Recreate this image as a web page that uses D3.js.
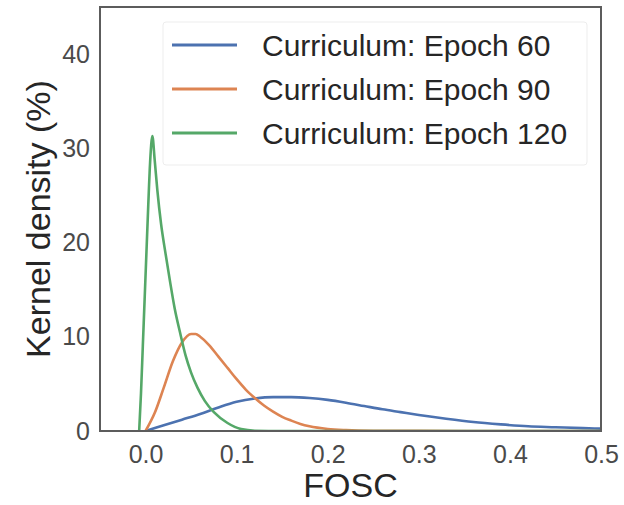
<!DOCTYPE html>
<html>
<head>
<meta charset="utf-8">
<script src="https://cdn.jsdelivr.net/npm/d3@7"></script>
<style>
  body { margin: 0; background: #fff; }
  svg { display: block; font-family: "Liberation Sans", Arial, Helvetica, sans-serif; }
</style>
</head>
<body>
<svg id="chart" width="624" height="505"></svg>
<script>
// ---- data ----
const seriesNames = ["Curriculum: Epoch 60", "Curriculum: Epoch 90", "Curriculum: Epoch 120"];
const seriesColors = ["#4c72b0", "#dd8452", "#55a868"];

const epoch60X = [0.0, 0.02, 0.04, 0.06, 0.08, 0.10, 0.12, 0.14, 0.16, 0.18, 0.20, 0.22, 0.24, 0.26, 0.28, 0.30, 0.33, 0.36, 0.39, 0.42, 0.45, 0.48, 0.50];
const epoch60Y = [0, 0.6, 1.2, 1.8, 2.5, 3.1, 3.45, 3.6, 3.6, 3.5, 3.3, 3.0, 2.65, 2.3, 2.0, 1.7, 1.3, 0.95, 0.7, 0.5, 0.4, 0.3, 0.25];

const epoch90X = [0.0, 0.01, 0.02, 0.03, 0.04, 0.05, 0.055, 0.06, 0.07, 0.08, 0.09, 0.10, 0.11, 0.12, 0.13, 0.14, 0.15, 0.16, 0.17, 0.18, 0.20, 0.22, 0.25, 0.30, 0.40, 0.50];
const epoch90Y = [0, 1.9, 4.6, 7.4, 9.4, 10.3, 10.3, 10.0, 9.1, 7.9, 6.7, 5.5, 4.4, 3.5, 2.7, 2.05, 1.5, 1.1, 0.75, 0.5, 0.22, 0.1, 0.03, 0.01, 0.0, 0.0];

const epoch120X = [-0.007, -0.005, -0.003, -0.001, 0.001, 0.003, 0.005, 0.0075, 0.010, 0.013, 0.017, 0.022, 0.027, 0.032, 0.038, 0.044, 0.050, 0.057, 0.065, 0.075, 0.09, 0.105, 0.12, 0.15, 0.2, 0.3, 0.5];
const epoch120Y = [0, 4, 9, 14, 19, 24, 28.5, 31.3, 28.8, 25.5, 22, 18.8, 15.8, 13, 10.4, 8, 6.2, 4.6, 3.2, 2.0, 0.85, 0.2, 0.03, 0, 0, 0, 0];

const xTicks = [0.0, 0.1, 0.2, 0.3, 0.4, 0.5];
const yTicks = [0, 10, 20, 30, 40];
const xLabel = "FOSC";
const yLabel = "Kernel density (%)";

// ---- layout ----
const svg = d3.select("#chart");
const L = 100, R = 601, T = 7, B = 431;

const x = d3.scaleLinear().domain([-0.05, 0.5]).range([L, R]);
const y = d3.scaleLinear().domain([0, 45]).range([B, T]);

const series = [
  {name: seriesNames[0], color: seriesColors[0], xs: epoch60X, ys: epoch60Y},
  {name: seriesNames[1], color: seriesColors[1], xs: epoch90X, ys: epoch90Y},
  {name: seriesNames[2], color: seriesColors[2], xs: epoch120X, ys: epoch120Y}
];

const line = d3.line()
  .x(d => x(d[0]))
  .y(d => y(d[1]))
  .curve(d3.curveMonotoneX);

svg.append("defs").append("clipPath").attr("id", "clip")
  .append("rect").attr("x", L).attr("y", T).attr("width", R - L).attr("height", B - T);

const g = svg.append("g").attr("clip-path", "url(#clip)");
series.forEach(s => {
  g.append("path")
    .datum(s.xs.map((v, i) => [v, s.ys[i]]))
    .attr("fill", "none")
    .attr("stroke", s.color)
    .attr("stroke-width", 2.6)
    .attr("stroke-linejoin", "round")
    .attr("d", line);
});

// frame
svg.append("rect")
  .attr("x", L).attr("y", T).attr("width", R - L).attr("height", B - T)
  .attr("fill", "none").attr("stroke", "#5c5c5c").attr("stroke-width", 2);

// axes (no tick marks, seaborn white style)
const xAxis = d3.axisBottom(x).tickValues(xTicks).tickFormat(d3.format(".1f")).tickSize(0).tickPadding(14);
const gx = svg.append("g").attr("transform", `translate(0,${B})`).call(xAxis);
gx.select(".domain").remove();
gx.selectAll("text").attr("font-size", 25).attr("fill", "#4a4a4a").attr("font-family", "Liberation Sans, Arial, sans-serif");

const yAxis = d3.axisLeft(y).tickValues(yTicks).tickFormat(d3.format("d")).tickSize(0).tickPadding(10);
const gy = svg.append("g").attr("transform", `translate(${L},0)`).call(yAxis);
gy.select(".domain").remove();
gy.selectAll("text").attr("font-size", 25).attr("fill", "#4a4a4a").attr("font-family", "Liberation Sans, Arial, sans-serif");

// axis labels
svg.append("text")
  .attr("x", (L + R) / 2).attr("y", 497)
  .attr("text-anchor", "middle")
  .attr("font-size", 34).attr("fill", "#262626")
  .text(xLabel);

svg.append("text")
  .attr("transform", `translate(50,${(T + B) / 2}) rotate(-90)`)
  .attr("text-anchor", "middle")
  .attr("font-size", 34).attr("fill", "#262626")
  .text(yLabel);

// legend
const lg = svg.append("g");
lg.append("rect")
  .attr("x", 163).attr("y", 22).attr("width", 424).attr("height", 143)
  .attr("rx", 3)
  .attr("fill", "#fff").attr("fill-opacity", 0.8)
  .attr("stroke", "#ededed").attr("stroke-width", 1);

series.forEach((s, i) => {
  const yy = 45 + i * 44;
  lg.append("line")
    .attr("x1", 172).attr("x2", 237).attr("y1", yy).attr("y2", yy)
    .attr("stroke", s.color).attr("stroke-width", 2.8);
  lg.append("text")
    .attr("x", 262).attr("y", yy).attr("dy", "0.36em")
    .attr("font-size", 30).attr("fill", "#262626")
    .text(s.name);
});
</script>
</body>
</html>
